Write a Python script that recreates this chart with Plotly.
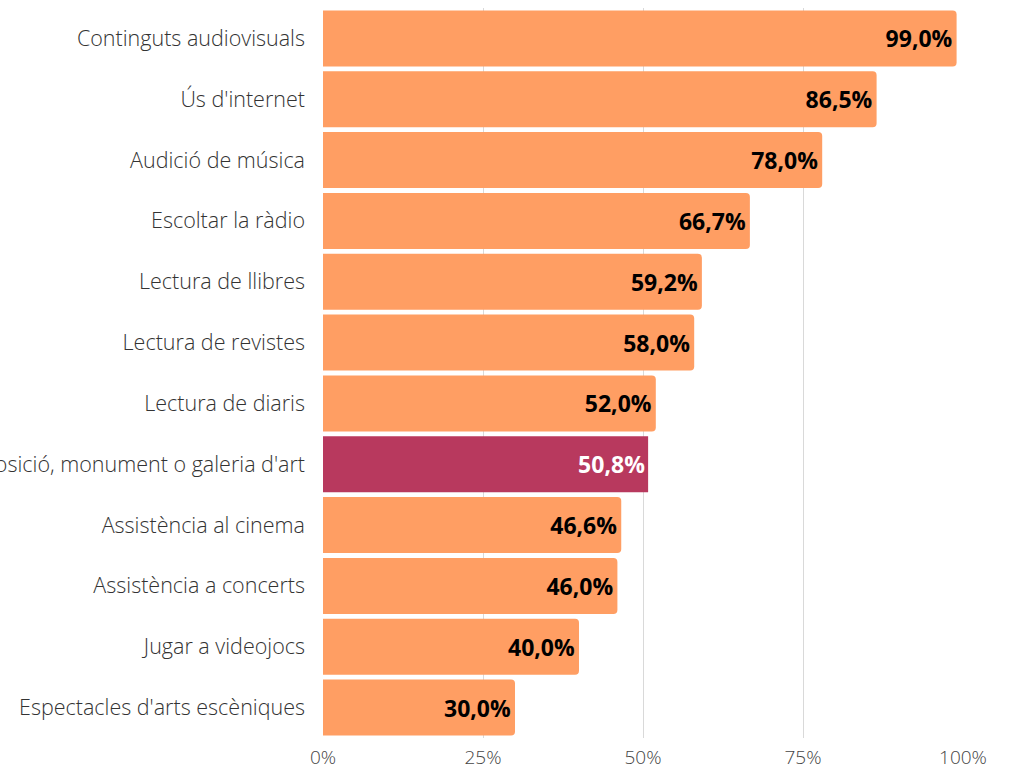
import plotly.graph_objects as go

categories = [
    "Continguts audiovisuals",
    "Ús d'internet",
    "Audició de música",
    "Escoltar la ràdio",
    "Lectura de llibres",
    "Lectura de revistes",
    "Lectura de diaris",
    "Visita a exposició, monument o galeria d'art",
    "Assistència al cinema",
    "Assistència a concerts",
    "Jugar a videojocs",
    "Espectacles d'arts escèniques",
]
values = [0.990, 0.865, 0.780, 0.667, 0.592, 0.580, 0.520, 0.508, 0.466, 0.460, 0.400, 0.300]
highlight = "Visita a exposició, monument o galeria d'art"

tick_vals = [0, 0.25, 0.5, 0.75, 1.0]

ORANGE = '#FF9E63'
CRIMSON = '#B8395E'

base_cats = [c for c in categories if c != highlight]
base_vals = [v for c, v in zip(categories, values) if c != highlight]
hi_vals = [v for c, v in zip(categories, values) if c == highlight]

fig = go.Figure()
fig.add_trace(go.Bar(
    y=base_cats, x=base_vals, orientation='h',
    marker=dict(color=ORANGE, cornerradius=4, line=dict(width=0)),
    texttemplate='<b>%{x:.1%}</b>', textposition='inside', insidetextanchor='end',
    textfont=dict(color='black', size=23, family='Open Sans'),
    hoverinfo='skip',
))
fig.add_trace(go.Bar(
    y=[highlight], x=hi_vals, orientation='h',
    marker=dict(color=CRIMSON, line=dict(width=0)),
    texttemplate='<b>%{x:.1%}</b>', textposition='inside', insidetextanchor='end',
    textfont=dict(color='white', size=23, family='Open Sans'),
    hoverinfo='skip',
))

fig.update_layout(
    width=1010, height=771,
    margin=dict(l=323, r=47, t=8, b=33, autoexpand=False),
    plot_bgcolor='white', paper_bgcolor='white',
    barmode='overlay', bargap=0.08,
    showlegend=False,
    separators=',.',
    font=dict(family='Open Sans', color='#333333', size=18),
    xaxis=dict(
        range=[0, 1.0], tickvals=tick_vals, tickformat='.0%',
        showgrid=True, gridcolor='#d9d9d9', gridwidth=1,
        zeroline=False, showline=False, ticks='', automargin=False,
        ticklabelstandoff=6,
        tickfont=dict(size=19, color='#444444', weight=300),
    ),
    yaxis=dict(
        categoryorder='array', categoryarray=categories, autorange='reversed',
        showgrid=False, ticks='', ticklen=0, automargin=False,
        ticklabelstandoff=17,
        tickfont=dict(size=21.5, color='#333333', weight=300),
    ),
)

# page body has a default 8px margin; drop it so the figure sits at the corner
fig.write_html("out.html", config={'displayModeBar': False},
               post_script="document.body.style.margin='0px';")
